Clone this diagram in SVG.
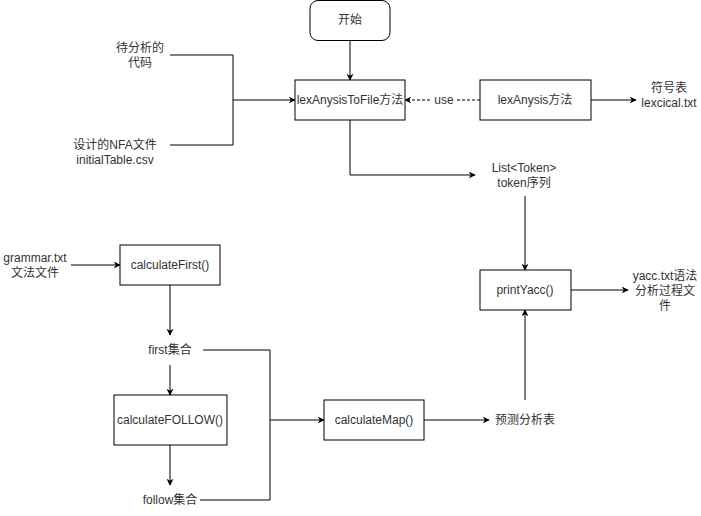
<svg xmlns="http://www.w3.org/2000/svg" width="701" height="516" viewBox="0 0 701 516">
<defs>
<marker id="arr" viewBox="0 0 10 10" refX="9" refY="5" markerWidth="7" markerHeight="7" markerUnits="userSpaceOnUse" orient="auto">
<path d="M0,0 L10,5 L0,10 L3,5 z" fill="#000"/>
</marker>
<style>
.box{fill:#fff;stroke:#000;stroke-width:1}
.t{font-family:"Liberation Sans","Noto Sans CJK SC",Arial,sans-serif;font-size:12px;fill:#333;text-anchor:middle;dominant-baseline:central}
.c{fill:none;stroke:#000;stroke-width:1}
.a{marker-end:url(#arr)}
.d{stroke-dasharray:3,2}
</style>
</defs>
<rect width="701" height="516" fill="#fff"/>
<g id="connectors">
<path class="c a" d="M350,40 V80"/>
<path class="c" d="M170,55 H233 V145 H170"/>
<path class="c a" d="M233,100 H295"/>
<path class="c a d" d="M480,100 H405"/>
<rect x="432" y="93" width="24" height="14" fill="#fff"/>
<text class="t" x="444" y="100">use</text>
<path class="c a" d="M591,100 H636"/>
<path class="c a" d="M350,120 V175 H475"/>
<path class="c a" d="M525,196 V270"/>
<path class="c a" d="M571,290 H628"/>
<path class="c a" d="M525,400 V310"/>
<path class="c a" d="M424,420 H489"/>
<path class="c a" d="M71,265 H120"/>
<path class="c a" d="M170,285 V335"/>
<path class="c a" d="M170,365 V395"/>
<path class="c a" d="M170,445 V485"/>
<path class="c" d="M203,350 H270 V500 H200"/>
<path class="c a" d="M270,420 H324"/>
</g>
<g id="start">
<rect class="box" x="310" y="0.5" width="80" height="40" rx="8"/>
<text class="t" x="350" y="20">开始</text>
</g>
<g id="lexToFile">
<rect class="box" x="295" y="80" width="110" height="40"/>
<text class="t" x="350" y="100">lexAnysisToFile方法</text>
</g>
<g id="code">
<text class="t" x="140" y="48">待分析的</text>
<text class="t" x="140" y="63">代码</text>
</g>
<g id="nfa">
<text class="t" x="115" y="145">设计的NFA文件</text>
<text class="t" x="115" y="160">initialTable.csv</text>
</g>
<g id="lexAnysis">
<rect class="box" x="480" y="80" width="111" height="40"/>
<text class="t" x="535" y="100">lexAnysis方法</text>
</g>
<g id="symtab">
<text class="t" x="669" y="88">符号表</text>
<text class="t" x="669" y="103">lexcical.txt</text>
</g>
<g id="tokens">
<text class="t" x="524" y="168">List&lt;Token&gt;</text>
<text class="t" x="524" y="183">token序列</text>
</g>
<g id="printYacc">
<rect class="box" x="480" y="270" width="91" height="40"/>
<text class="t" x="525" y="290">printYacc()</text>
</g>
<g id="yaccOut">
<text class="t" x="665" y="276">yacc.txt语法</text>
<text class="t" x="665" y="291">分析过程文</text>
<text class="t" x="665" y="306">件</text>
</g>
<g id="grammar">
<text class="t" x="35" y="258">grammar.txt</text>
<text class="t" x="35" y="273">文法文件</text>
</g>
<g id="calcFirst">
<rect class="box" x="120" y="245" width="100" height="40"/>
<text class="t" x="170" y="265">calculateFirst()</text>
</g>
<g id="firstSet">
<text class="t" x="170" y="350">first集合</text>
</g>
<g id="calcFollow">
<rect class="box" x="114" y="395" width="113" height="50"/>
<text class="t" x="170" y="420">calculateFOLLOW()</text>
</g>
<g id="followSet">
<text class="t" x="170" y="500">follow集合</text>
</g>
<g id="calcMap">
<rect class="box" x="324" y="400" width="100" height="40"/>
<text class="t" x="374" y="420">calculateMap()</text>
</g>
<g id="predTable">
<text class="t" x="525" y="420">预测分析表</text>
</g>
</svg>
